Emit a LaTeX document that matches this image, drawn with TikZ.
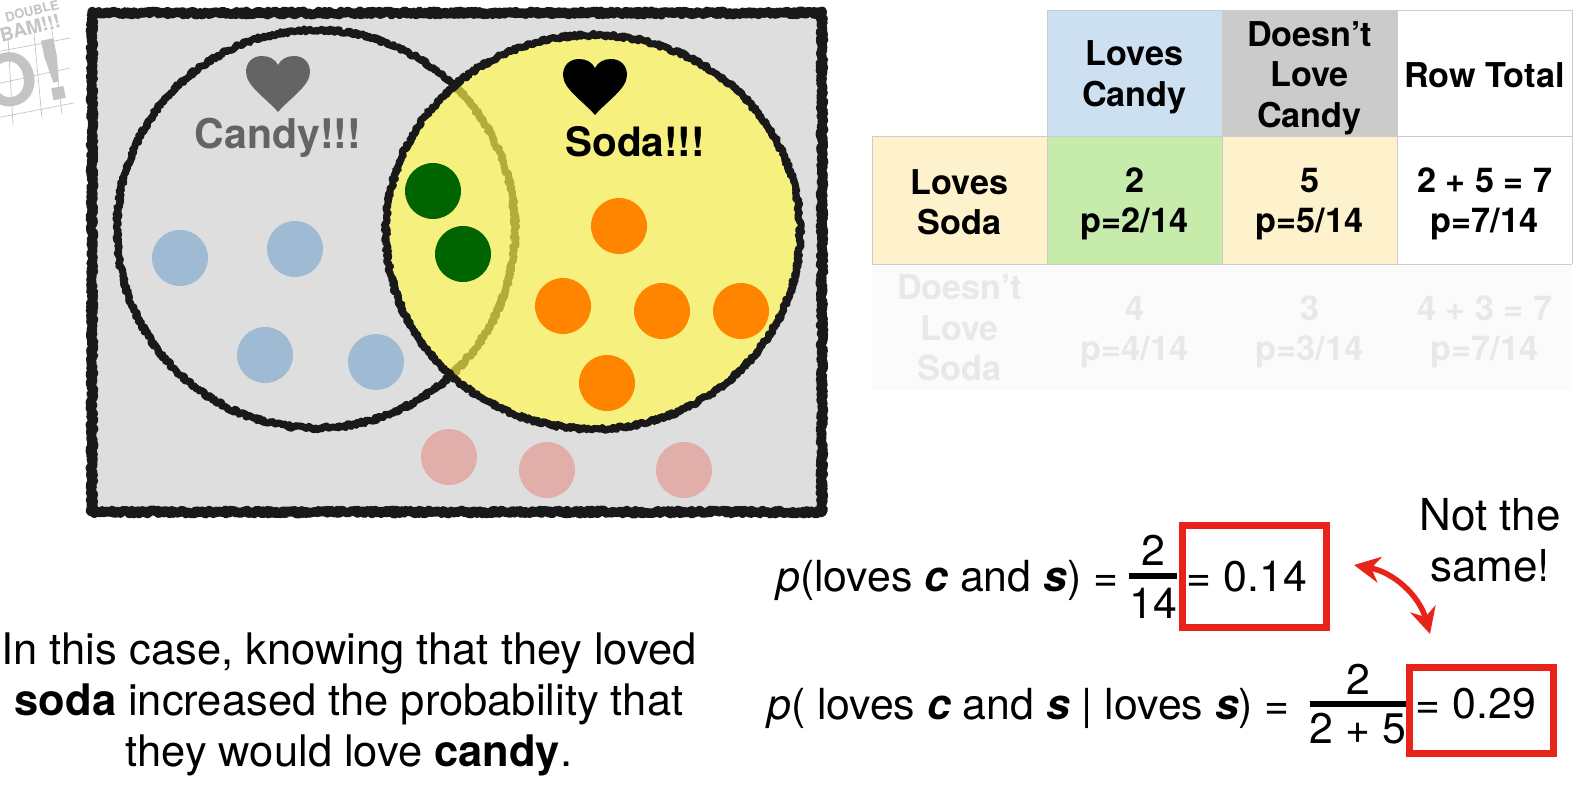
\documentclass[tikz,border=0pt]{standalone}
\usepackage{fontspec}
\setmainfont{TeX Gyre Heros}
\usepackage{tikz}
\usetikzlibrary{positioning}
\usetikzlibrary{arrows.meta}
\usetikzlibrary{decorations.pathmorphing}

\definecolor{paneGray}{HTML}{DEDEDE}
\definecolor{sodaYellow}{HTML}{F6F07E}
\definecolor{candyBlue}{HTML}{9FBAD3}
\definecolor{bothGreen}{HTML}{006400}
\definecolor{sodaOrange}{HTML}{FF8500}
\definecolor{noneRed}{HTML}{E2AEAA}
\definecolor{arcOlive}{HTML}{B3AB3A}
\definecolor{headBlue}{HTML}{CCE0F1}
\definecolor{headGray}{HTML}{CBCBCB}
\definecolor{headYellow}{HTML}{FDF2CB}
\definecolor{cellGreen}{HTML}{C7EBAA}
\definecolor{boxRed}{HTML}{E8231A}
\definecolor{fadeText}{HTML}{E8E8E8}
\definecolor{comicGray}{HTML}{C4C4C4}

\tikzset{
  rough/.style={line join=round, decorate, decoration={random steps, segment length=1.5pt, amplitude=1.7pt}},
  dot/.style={circle, minimum size=56pt, inner sep=0pt},
  cellhead/.style={align=center, font=\fontsize{34.2}{40.5}\selectfont\bfseries},
  cellfade/.style={cellhead, text=fadeText},
  eqn/.style={font=\fontsize{42.8}{50}\selectfont, inner sep=0pt},
  redbox/.style={draw=boxRed, line width=7pt, minimum width=144pt, inner sep=0pt},
  lovemark/.pic={
    \fill (0,28) .. controls (-12,14) and (-32,2) .. (-32,-12)
      .. controls (-32,-22) and (-25,-28) .. (-16,-28)
      .. controls (-9,-28) and (-3,-25) .. (0,-19)
      .. controls (3,-25) and (9,-28) .. (16,-28)
      .. controls (25,-28) and (32,-22) .. (32,-12)
      .. controls (32,2) and (12,14) .. (0,28) -- cycle;
  }
}

\begin{document}
\begin{tikzpicture}[x=1pt, y=-1pt]
  \useasboundingbox (0,0) rectangle (1596,798);

  % Faded comic stamp
  \begin{scope}[comicGray]
    \clip (0,0) rectangle (80,130);
    \draw[line width=0.7pt] (-4,52) -- (70,38) (-4,84) -- (70,68) (-4,118) -- (74,103);
    \draw[line width=0.7pt] (8,38) -- (13,125) (34,34) -- (42,118) (52,30) -- (62,114);
    \node[rotate=14, font=\fontsize{13}{13}\selectfont\bfseries] (stampa) at (32,11) {DOUBLE};
    \node[rotate=14, font=\fontsize{19}{19}\selectfont\bfseries] (stampb) at (30,28) {BAM!!!};
    \node[rotate=10, font=\fontsize{72}{72}\selectfont\bfseries] (stampc) at (10,80) {O};
    \node[rotate=12, font=\fontsize{84}{84}\selectfont\bfseries] (stampd) at (54,70) {!};
  \end{scope}

  % Main frame of the diagram
  \fill[paneGray] (92,13) rectangle (822,512);
  \draw[rough, line width=9.5pt, black!90] (92,13) -- (822,13) -- (822,512) -- (92,512) -- cycle;

  % Candy circle
  \draw[rough, line width=7pt, black!90] (316,229) circle (199);
  \pic[paneGray!45!black] at (278,84) {lovemark};
  \node[text=paneGray!45!black, font=\fontsize{41}{41}\selectfont\bfseries] (candylabel) at (278,138) {Candy!!!};

  % Soda circle, the candy edge shows through it
  \fill[sodaYellow] (593,232) ellipse (207 and 197);
  \begin{scope}
    \clip (593,232) ellipse (207 and 197);
    \draw[rough, line width=7pt, arcOlive] (316,229) circle (199);
  \end{scope}
  \draw[rough, line width=7pt, black!90] (593,232) ellipse (207 and 197);
  \pic[black] at (595,87) {lovemark};
  \node[font=\fontsize{40.5}{41}\selectfont\bfseries] (sodalabel) at (635,142) {Soda!!!};

  % People in each group
  \node[dot, fill=candyBlue] (blue1) at (180,258) {};
  \node[dot, fill=candyBlue] (blue2) at (295,249) {};
  \node[dot, fill=candyBlue] (blue3) at (265,355) {};
  \node[dot, fill=candyBlue] (blue4) at (376,362) {};
  \node[dot, fill=bothGreen] (green1) at (433,191) {};
  \node[dot, fill=bothGreen] (green2) at (463,254) {};
  \node[dot, fill=sodaOrange] (orange1) at (619,226) {};
  \node[dot, fill=sodaOrange] (orange2) at (563,306) {};
  \node[dot, fill=sodaOrange] (orange3) at (662,311) {};
  \node[dot, fill=sodaOrange] (orange4) at (741,311) {};
  \node[dot, fill=sodaOrange] (orange5) at (607,383) {};
  \node[dot, fill=noneRed] (red1) at (449,457) {};
  \node[dot, fill=noneRed] (red2) at (547,470) {};
  \node[dot, fill=noneRed] (red3) at (684,470) {};

  % Table: header row
  \fill[headBlue] (1047,10) rectangle (1222,136);
  \fill[headGray] (1222,10) rectangle (1397,136);
  \node[cellhead] (loveshead) at (1134.5,77.5) {Loves\\Candy};
  \node[cellhead] (nothead) at (1309.5,78) {Doesn’t\\Love\\Candy};
  \node[cellhead] (totalhead) at (1484.5,75) {Row Total};

  % Table: loves soda row
  \fill[headYellow] (872,136) rectangle (1047,264);
  \fill[cellGreen] (1047,136) rectangle (1222,264);
  \fill[headYellow] (1222,136) rectangle (1397,264);
  \node[cellhead] (sodahead) at (959.5,202) {Loves\\Soda};
  \node[cellhead] (cellboth) at (1134.5,204) {2\\p=2/14};
  \node[cellhead] (cellsoda) at (1309.5,204) {5\\p=5/14};
  \node[cellhead] (celltotal) at (1484.5,204) {2 + 5 = 7\\p=7/14};

  % Table: faded row
  \fill[black!1.5] (872,264) rectangle (1572,390);
  \node[cellfade] (nosodahead) at (959.5,328) {Doesn’t\\Love\\Soda};
  \node[cellfade] (cellcandy) at (1134.5,332) {4\\p=4/14};
  \node[cellfade] (cellnone) at (1309.5,332) {3\\p=3/14};
  \node[cellfade] (cellrest) at (1484.5,332) {4 + 3 = 7\\p=7/14};

  % Table: rules
  \draw[black!20, line width=1pt] (1047,10) -- (1572,10) -- (1572,264) (1047,10) -- (1047,264)
    (1222,10) -- (1222,264) (1397,10) -- (1397,264) (872,136) -- (1572,136)
    (872,136) -- (872,264) (872,264) -- (1572,264);

  % First equation
  \node[eqn, anchor=base west] (jointeq) at (776,591) {\textit{p}(loves \textbf{\textit{c}} and \textbf{\textit{s}}) =};
  \node[eqn, anchor=base] (jointtop) at (1153,565) {2};
  \node[eqn, anchor=base] (jointbot) at (1153,618) {14};
  \draw[line width=6pt] (jointbot.west |- 0,576) -- (jointbot.east |- 0,576);
  \node[redbox, minimum height=102pt] (jointbox) at (1254,576.5) {};
  \node[eqn, anchor=base] (jointval) at (1247,591) {= 0.14};

  % Second equation
  \node[eqn, anchor=base west] (condeq) at (767,719) {\textit{p}( loves \textbf{\textit{c}} and \textbf{\textit{s}} | loves \textbf{\textit{s}}) =};
  \node[eqn, anchor=base] (condtop) at (1358,694) {2};
  \node[eqn, anchor=base] (condbot) at (1358,743) {2 + 5};
  \draw[line width=6pt] (condbot.west |- 0,704) -- (condbot.east |- 0,704);
  \node[redbox, minimum height=86pt] (condbox) at (1481,710) {};
  \node[eqn, anchor=base] (condval) at (1476,718) {= 0.29};

  % Side note with its arrow
  \node[eqn, align=center, font=\fontsize{44}{51}\selectfont] (samenote) at (1490,540) {Not the\\same!};
  \coordinate (arrowtop) at (1354,565);
  \coordinate (arrowbot) at (1430,634);
  \draw[{Stealth[length=26pt, width=26pt]}-{Stealth[length=26pt, width=26pt]}, boxRed, line width=5.5pt]
    (arrowtop) to[bend left=32] (arrowbot);

  % Closing remark
  \node[align=center, font=\fontsize{43.5}{51}\selectfont, inner sep=0pt] (remark) at (349,704)
    {In this case, knowing that they loved\\\textbf{soda} increased the probability that\\they would love \textbf{candy}.};
\end{tikzpicture}
\end{document}
